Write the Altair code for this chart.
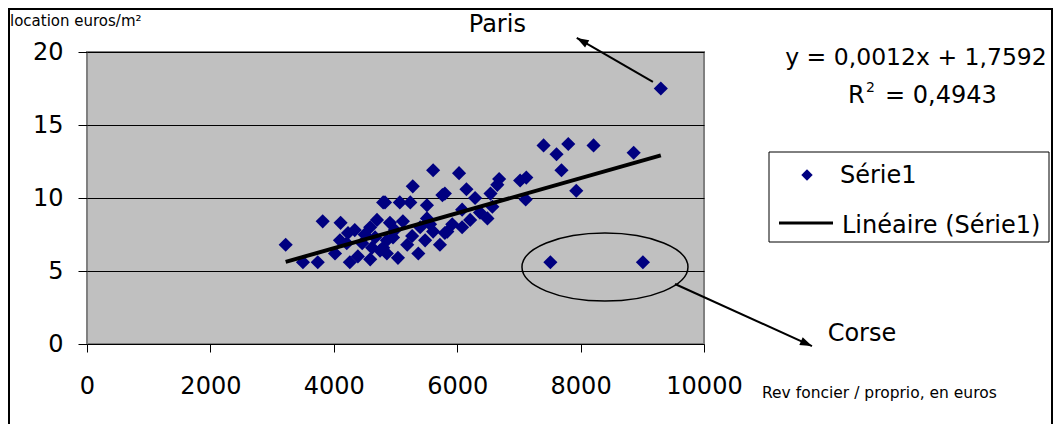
import altair as alt
import pandas as pd

# ---- data ----
rev = [3220, 3500, 3740, 3820, 4110, 4020, 4230, 4260, 4390, 4460,
       4210, 4100, 4590, 4700, 4800, 4590, 4750, 4860, 4800, 4860,
       4910, 4960, 4830, 5070, 5120, 5190, 5240, 5270, 5280, 5370,
       5510, 5510, 5610, 5610, 5720, 5760, 5800, 5800, 5840, 6030,
       6080, 6080, 6150, 6210, 6290, 6370, 6490, 6540, 6570, 6650,
       6680, 7020, 7120, 7110, 7400, 7610, 7800, 7690, 7930, 8210,
       8860, 9300, 7510, 9010, 4500, 4620, 4990, 5400, 5480, 5040,
       4670, 4340, 5560, 5920]
loc = [6.8, 5.6, 5.6, 8.4, 8.3, 6.2, 7.6, 5.6, 6.0, 6.9,
       6.9, 7.1, 8.0, 8.5, 9.7, 5.8, 6.4, 7.1, 6.6, 6.2,
       8.3, 7.3, 9.7, 9.7, 8.4, 6.8, 9.7, 7.4, 10.8, 6.2,
       9.5, 8.6, 11.9, 7.7, 6.8, 10.2, 7.6, 10.3, 7.7, 11.7,
       9.2, 8.0, 10.6, 8.5, 10.0, 9.0, 8.6, 10.3, 9.4, 10.9,
       11.3, 11.2, 11.4, 9.9, 13.6, 13.0, 13.7, 11.9, 10.5, 13.6,
       13.1, 17.5, 5.6, 5.6, 7.5, 6.6, 7.8, 8.0, 7.1, 5.9,
       7.3, 7.8, 8.2, 8.2]
slope = 0.0012
intercept = 1.7592
x_ticks = [0, 2000, 4000, 6000, 8000, 10000]
y_ticks = [0, 5, 10, 15, 20]

# annotations (data coordinates)
arrow_x = [9172, 9530]
arrow_y = [17.95, 4.11]
arrow_x2 = [7938, 11750]
arrow_y2 = [20.96, -0.14]
arrow_angle = [300, 114]
label_names = ["Paris", "Corse"]
label_x = [6650, 12560]
label_y = [21.4, 0.2]
ellipse_x = [8395]
ellipse_y = [5.27]

FONT = "DejaVu Sans"
NAVY = "#000080"

pts = pd.DataFrame({"x": rev, "y": loc})
trend = pd.DataFrame({"x": [min(rev), max(rev)]})
trend["y"] = slope * trend["x"] + intercept
arrows = pd.DataFrame({"x": arrow_x, "y": arrow_y, "x2": arrow_x2,
                       "y2": arrow_y2, "ang": arrow_angle})
labels = pd.DataFrame({"x": label_x, "y": label_y, "t": label_names})
ell = pd.DataFrame({"x": ellipse_x, "y": ellipse_y})
one = pd.DataFrame({"a": [0]})

xscale = alt.Scale(domain=[0, 10000], nice=False)
yscale = alt.Scale(domain=[0, 20], nice=False)
xaxis = alt.Axis(values=x_ticks, grid=False, tickSize=8, labelPadding=41,
                 labelBaseline="alphabetic", domain=False, format="d",
                 labelFlush=False)
yaxis = alt.Axis(values=y_ticks, grid=True, tickSize=9, labelPadding=15,
                 domain=False, format="d", labelFlush=False)
X = alt.X("x:Q", scale=xscale, axis=xaxis, title=None)
Y = alt.Y("y:Q", scale=yscale, axis=yaxis, title=None)

points = alt.Chart(pts).mark_point(shape="diamond", filled=True, size=200,
                                   color=NAVY, opacity=1).encode(x=X, y=Y)
line = alt.Chart(trend).mark_line(color="black", strokeWidth=4).encode(x=X, y=Y)

arrow_lines = alt.Chart(arrows).mark_rule(color="black", strokeWidth=2).encode(
    x=X, y=Y, x2="x2:Q", y2="y2:Q")
ARROW = "M0,0 L0.7,2 L-0.7,2 Z"
arrow_heads = alt.Chart(arrows).mark_point(shape=ARROW, filled=True, size=144,
                                           color="black", opacity=1).encode(
    x=alt.X("x2:Q", scale=xscale, axis=xaxis, title=None),
    y=alt.Y("y2:Q", scale=yscale, axis=yaxis, title=None),
    angle=alt.Angle("ang:Q", scale=None))
ELLIPSE = "M-1,0 A1,0.41 0 1,1 1,0 A1,0.41 0 1,1 -1,0 Z"
ellipse = alt.Chart(ell).mark_point(shape=ELLIPSE, filled=False, size=27556,
                                    color="black", strokeWidth=1.5,
                                    opacity=1).encode(x=X, y=Y)
label_text = alt.Chart(labels).mark_text(font=FONT, fontSize=24, align="center",
                                         baseline="alphabetic", color="black").encode(
    x=X, y=Y, text="t:N")


def txt(s, x, y, size=24, align="left"):
    return alt.Chart(one).mark_text(text=s, font=FONT, fontSize=size, align=align,
                                    baseline="alphabetic", color="black").encode(
        x=alt.value(x), y=alt.value(y))


eq1 = txt("y = 0,0012x + 1,7592", 829, 13, size=23.5, align="center")
r_1 = txt("R", 761, 51)
r_2 = txt("2", 779, 40, size=14)
r_3 = txt("= 0,4943", 798, 51)
ytitle = txt("location euros/m²", -77, -26, size=15)
xtitle = txt("Rev foncier / proprio, en euros", 675, 346, size=15.5)

leg_box = alt.Chart(one).mark_rect(fill="white", stroke="black", strokeWidth=1).encode(
    x=alt.value(682), x2=alt.value(962), y=alt.value(100), y2=alt.value(190))
leg_pt = alt.Chart(one).mark_point(shape="diamond", filled=True, size=130,
                                   color=NAVY, opacity=1).encode(
    x=alt.value(720), y=alt.value(123))
leg_t1 = txt("Série1", 753, 131)
leg_line = alt.Chart(one).mark_rule(color="black", strokeWidth=3).encode(
    x=alt.value(692), x2=alt.value(746), y=alt.value(171))
leg_t2 = txt("Linéaire (Série1)", 755, 181)

frame = alt.Chart(one).mark_rect(fill=None, stroke="black", strokeWidth=2).encode(
    x=alt.value(-78), x2=alt.value(965), y=alt.value(-43), y2=alt.value(400))

chart = alt.layer(
    points, line, ellipse, arrow_lines, arrow_heads, label_text,
    eq1, r_1, r_2, r_3, ytitle, xtitle,
    leg_box, leg_pt, leg_t1, leg_line, leg_t2, frame
).properties(
    width=617, height=292, autosize="none",
    padding={"left": 79, "top": 44, "right": 349, "bottom": 80},
    background="white",
).configure_view(
    fill="#C0C0C0", stroke="#808080", strokeWidth=2
).configure_axis(
    labelFont=FONT, labelFontSize=24, labelColor="black",
    tickColor="black", tickWidth=1, gridColor="black", gridWidth=1,
    gridOpacity=1,
)

chart.save("out.html", embed_options={"renderer": "svg", "actions": False})
